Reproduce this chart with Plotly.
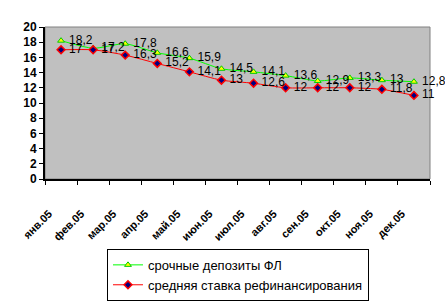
import plotly.graph_objects as go

months = ["янв.05", "фев.05", "мар.05", "апр.05", "май.05", "июн.05",
          "июл.05", "авг.05", "сен.05", "окт.05", "ноя.05", "дек.05"]
deposits = [18.2, 17.2, 17.8, 16.6, 15.9, 14.5, 14.1, 13.6, 12.9, 13.3, 13, 12.8]
refinancing = [17, 17, 16.3, 15.2, 14.1, 13, 12.6, 12, 12, 12, 11.8, 11]

name_dep = "срочные депозиты ФЛ"
name_ref = "средняя ставка рефинансирования"


def fmt(v):
    s = ("%g" % v).replace(".", ",")
    return "\u00a0" + s


xpos = [i + 0.5 for i in range(len(months))]

fig = go.Figure()
fig.add_trace(go.Scatter(
    x=xpos, y=deposits, name=name_dep, mode="lines+markers+text",
    line=dict(color="#00FF00", width=1, shape="spline", smoothing=0.6),
    marker=dict(symbol="triangle-up", size=6, color="#FFFF00",
                line=dict(color="#00CC00", width=1)),
    text=[fmt(v) for v in deposits], textposition="middle right",
    textfont=dict(family="Liberation Sans, Arial", size=12, color="black"),
    cliponaxis=False,
))
fig.add_trace(go.Scatter(
    x=xpos, y=refinancing, name=name_ref, mode="lines+markers+text",
    line=dict(color="#FF0000", width=1, shape="spline", smoothing=0.6),
    marker=dict(symbol="diamond", size=6, color="#000080",
                line=dict(color="#FF0000", width=1.5)),
    text=[fmt(v) for v in refinancing], textposition="middle right",
    textfont=dict(family="Liberation Sans, Arial", size=12, color="black"),
    cliponaxis=False,
))

fig.add_shape(type="rect", xref="paper", yref="paper", x0=0, y0=0, x1=1, y1=1,
              line=dict(color="#808080", width=1), layer="below")

fig.update_layout(
    width=445, height=304,
    margin=dict(l=45, r=15, t=27, b=125, autoexpand=False),
    paper_bgcolor="white", plot_bgcolor="#C0C0C0",
    font=dict(family="Liberation Sans, Arial", size=12, color="black"),
    showlegend=True,
    legend=dict(
        x=0.161, y=-0.46, xanchor="left", yanchor="top",
        bordercolor="black", borderwidth=1, bgcolor="white",
        font=dict(family="Liberation Sans, Arial", size=13, color="black"),
        tracegroupgap=0,
    ),
)
fig.update_xaxes(
    range=[0, 12], tickvals=list(range(13)), ticktext=months + [""],
    tickangle=-45, ticks="outside", ticklen=4, tickcolor="black",
    ticklabelstandoff=18, ticklabelshift=4,
    showline=True, linecolor="black", linewidth=2, showgrid=False, zeroline=False,
    automargin=False,
    tickfont=dict(family="Liberation Sans, Arial", size=11, color="black", weight="bold"),
)
fig.update_yaxes(
    range=[0, 20], dtick=2, ticks="outside", ticklen=4, tickcolor="black",
    showline=True, linecolor="black", linewidth=2, showgrid=False, zeroline=False,
    automargin=False,
    tickfont=dict(family="Liberation Sans, Arial", size=12, color="black", weight="bold"),
)

fig.write_html("out.html")
